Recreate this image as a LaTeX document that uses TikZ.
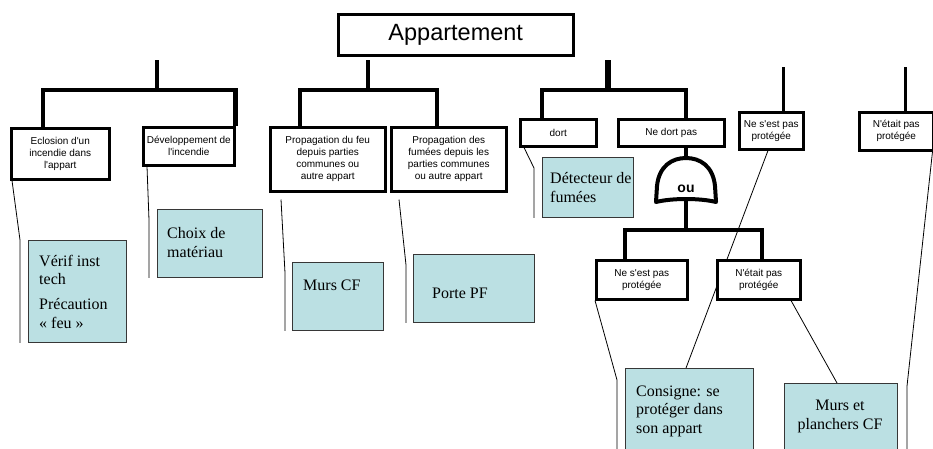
\documentclass[tikz,border=0pt]{standalone}
\usepackage{fontspec}
\setmainfont{Liberation Serif}
\newfontfamily\arialfont{Liberation Sans}
\usetikzlibrary{calc}
\definecolor{notefill}{RGB}{187,224,227}
\definecolor{notedraw}{RGB}{55,55,55}
\pgfdeclarelayer{background}
\pgfsetlayers{background,main}

\begin{document}
\begin{tikzpicture}[x=1pt,y=-1pt,
  wbox/.style={draw=black, line width=2.5pt, fill=white, inner sep=0pt, align=center,
    font=\arialfont\fontsize{10}{12}\selectfont, anchor=north west},
  bbox/.style={draw=notedraw, line width=0.9pt, fill=notefill, anchor=north west, inner sep=0pt},
  btext/.style={font=\fontsize{16}{18.5}\selectfont, inner sep=0pt, align=left, anchor=base west},
  tree/.style={line width=4.5pt},
  stem/.style={line width=3pt},
  lead/.style={line width=0.8pt},
]
\useasboundingbox (0,0) rectangle (933,448);

% event boxes
\node[wbox, minimum width=235, minimum height=41, font=\arialfont\fontsize{23.5}{28}\selectfont] (app) at (337,13) {Appartement};
\node[wbox, minimum width=98, minimum height=51] (ecl) at (10,127) {Eclosion d'un\\incendie dans\\l'appart};
\node[wbox, minimum width=91, minimum height=38] (dev) at (142,126) {Développement de\\l'incendie};
\node[wbox, minimum width=115, minimum height=64] (pfeu) at (269,126) {Propagation du feu\\depuis parties\\communes ou\\autre appart};
\node[wbox, minimum width=115, minimum height=64] (pfum) at (390,126) {Propagation des\\fumées depuis les\\parties communes\\ou autre appart};
\node[wbox, minimum width=76, minimum height=27] (dort) at (519,118) {dort};
\node[wbox, minimum width=106, minimum height=27] (nedort) at (617,118) {Ne dort pas};
\node[wbox, minimum width=64, minimum height=37] (nsp1) at (738,111) {Ne s'est pas\\protégée};
\node[wbox, minimum width=74, minimum height=38] (nep1) at (858,111) {N'était pas\\protégée};
\node[wbox, minimum width=91, minimum height=39] (nsp2) at (595,259) {Ne s'est pas\\protégée};
\node[wbox, minimum width=83, minimum height=39] (nep2) at (716,259) {N'était pas\\protégée};

% barrier notes
\node[bbox, minimum width=98, minimum height=102] (b1) at (28,240) {};
\node[bbox, minimum width=105, minimum height=68] (b2) at (157,209) {};
\node[bbox, minimum width=91, minimum height=68] (b3) at (292,262) {};
\node[bbox, minimum width=121, minimum height=68] (b4) at (413,254) {};
\node[bbox, minimum width=91, minimum height=60] (b5) at (542,157) {};
\node[bbox, minimum width=128, minimum height=100] (b6) at (625,368) {};
\node[bbox, minimum width=113, minimum height=80] (b7) at (784,383) {};

% note texts (placed by the baseline of their last line)
\node[btext] (t1) at (39,328) {Vérif inst\\tech\\[6.5pt]Précaution\\«~feu~»};
\node[btext] (t2) at (167,257) {Choix de\\matériau};
\node[btext] (t3) at (303,290) {Murs CF};
\node[btext] (t4) at (432,298) {Porte PF};
\node[btext] (t5) at (550,202) {Détecteur de\\fumées};
\node[btext] (t6) at (636,433) {Consigne: se\\protéger dans\\son appart};
\node[btext, anchor=base, align=center] (t7) at (840,429) {Murs et\\planchers CF};

% OR gate
\coordinate (gtop) at (686,158);
\coordinate (gbot) at (686,200);
\draw[line width=4pt, line join=round]
  (656,202) -- (657,186) .. controls (659,166) and (672,158) .. (gtop)
  .. controls (700,158) and (713,166) .. (715,186) -- (716,202)
  .. controls (700,198) and (672,198) .. (656,202) -- cycle;
\node[font=\arialfont\bfseries\fontsize{14}{14}\selectfont, inner sep=0pt] (ou) at (686,189) {ou};

\begin{pgfonlayer}{background}
  % tree branches
  \coordinate (s1) at (157,60); \coordinate (j1) at (157,90);
  \draw[tree] (s1) -- (j1);
  \draw[tree] ($(ecl.north west)+(33,0)$) |- (j1) -| (dev.north east);

  \coordinate (s2) at (368,60); \coordinate (j2) at (368,90);
  \draw[tree] (s2) -- (j2);
  \draw[tree] ($(pfeu.north west)+(31,0)$) |- (j2) -| ($(pfum.north west)+(47,0)$);

  \coordinate (s3) at (608,60); \coordinate (j3) at (608,90);
  \draw[line width=6pt] (s3) -- (j3);
  \draw[tree] ($(dort.north west)+(23,0)$) |- (j3) -| ($(nedort.north west)+(69,0)$);

  \draw[tree] ($(nedort.south west)+(69,0)$) -- (gtop);
  \coordinate (j4) at (686,230);
  \draw[tree] (gbot) -- (j4);
  \draw[tree] ($(nsp2.north west)+(30,0)$) |- (j4) -| ($(nep2.north west)+(46,0)$);

  \coordinate (s4) at (783,67);
  \draw[stem] (s4) -- (s4 |- nsp1.north);
  \coordinate (s5) at (905,67);
  \draw[stem] (s5) -- (s5 |- nep1.north);

  % note leaders
  \draw[lead] ($(ecl.south west)+(2,0)$) -- ($(b1.north west)+(-8,0)$) -- ($(b1.south west)+(-8,0)$);
  \draw[lead] ($(dev.south west)+(5,0)$) -- ($(b2.north west)+(-8,11)$) -- ($(b2.south west)+(-8,0)$);
  \draw[lead] ($(pfeu.south west)+(12,7)$) -- ($(b3.north west)+(-7,11)$) -- ($(b3.south west)+(-7,0)$);
  \draw[lead] ($(pfum.south west)+(9,7)$) -- ($(b4.north west)+(-7,11)$) -- ($(b4.south west)+(-7,0)$);
  \draw[lead] ($(dort.south west)+(5,0)$) -- ($(b5.north west)+(-8,11)$) -- ($(b5.south west)+(-8,0)$);
  \draw[lead] (nsp2.south west) -- ($(b6.north west)+(-8,12)$) -- ($(b6.south west)+(-8,0)$);
  \draw[lead] ($(nsp1.south west)+(30,0)$) -- ($(b6.north west)+(61,0)$);
  \draw[lead] ($(nep2.south west)+(75,0)$) -- ($(b7.north west)+(53,0)$);
  \draw[lead] ($(nep1.south east)+(-2,0)$) -- ($(b7.north east)+(9,4)$) -- ($(b7.south east)+(9,0)$);
\end{pgfonlayer}
\end{tikzpicture}
\end{document}
